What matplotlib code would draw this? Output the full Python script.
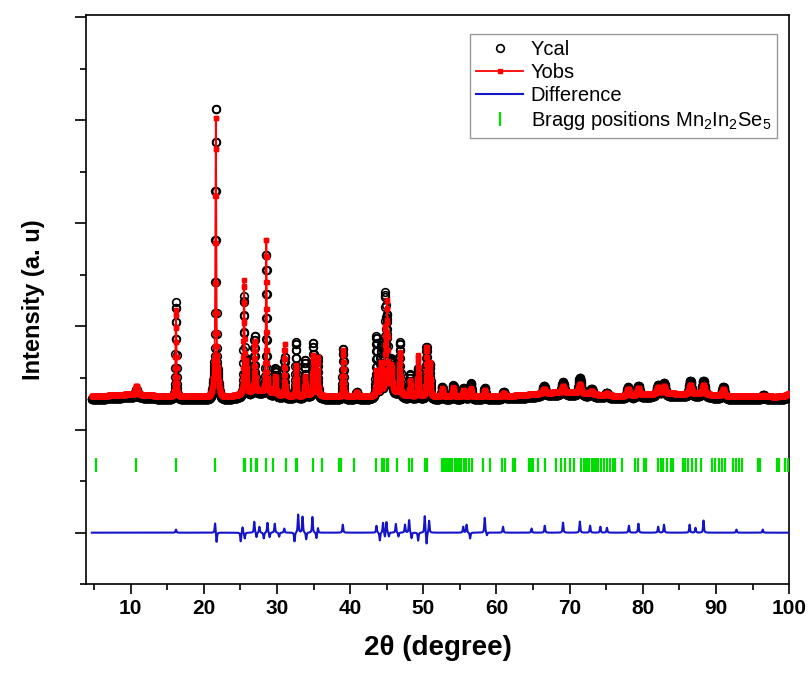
import numpy as np
import matplotlib
matplotlib.use("Agg")
import matplotlib.pyplot as plt
from matplotlib.ticker import MultipleLocator

# 2-theta range of the scan
two_theta_start = 4.7
two_theta_end = 100.0

# background levels (counts)
bg_obs = 2640
bg_cal = 2585

# broad background humps: position, width, height
hump_pos = [10.0, 21.65, 27.5, 35.0, 45.5, 69.0, 83.0, 88.0, 100.5]
hump_width = [6.0, 0.7, 4.0, 2.0, 2.5, 9.0, 6.0, 4.0, 1.5]
hump_height = [40, 480, 100, 40, 100, 80, 60, 40, 80]

# reflections: position, fwhm, height (obs / cal)
peak_pos = [10.8, 16.2, 21.65, 25.5, 25.8, 26.95, 28.55, 29.8, 31.05, 32.6,
            33.85, 34.95, 35.55, 39.05, 40.9, 43.6, 44.2, 44.8, 45.05, 45.6,
            46.8, 48.2, 49.3, 50.45, 50.9, 52.6, 54.1, 55.5, 56.5, 58.4,
            61.0, 66.5, 69.1, 71.4, 73.0, 75.1, 78.0, 79.4, 82.1, 82.9,
            86.5, 88.3, 91.0, 96.5]
peak_fwhm = [0.35, 0.15, 0.14, 0.15, 0.2, 0.18, 0.15, 0.2, 0.15, 0.18,
             0.18, 0.18, 0.18, 0.16, 0.3, 0.2, 0.2, 0.18, 0.16, 0.3,
             0.18, 0.18, 0.18, 0.18, 0.2, 0.25, 0.25, 0.25, 0.25, 0.25,
             0.3, 0.4, 0.4, 0.4, 0.4, 0.4, 0.4, 0.4, 0.4, 0.4,
             0.4, 0.4, 0.4, 0.45]
peak_obs = [170, 1670, 5010, 2170, 580, 990, 2990, 350, 1010, 600,
            370, 760, 740, 910, 80, 470, 600, 1180, 1700, 500,
            800, 310, 800, 950, 640, 155, 175, 120, 155, 120,
            60, 80, 120, 175, 60, 40, 135, 135, 120, 135,
            175, 175, 135, 20]
peak_cal = [150, 1880, 5240, 1920, 680, 1140, 2750, 560, 815, 1110,
            740, 1050, 760, 990, 135, 1185, 950, 1900, 1430, 660,
            1050, 470, 600, 1010, 660, 235, 270, 215, 310, 215,
            135, 195, 250, 350, 155, 100, 215, 235, 215, 250,
            310, 310, 235, 80]

# difference curve features: position, signed amplitude
diff_pos = [16.2, 21.55, 21.75, 25.05, 25.3, 25.6, 26.9, 27.2, 27.6, 28.2,
            28.7, 29.0, 29.7, 30.3, 31.0, 32.4, 32.9, 33.5, 34.0, 34.85,
            35.4, 35.6, 39.0, 43.6, 44.06, 44.5, 44.75, 44.97, 45.3, 46.25,
            46.6, 47.5, 48.07, 48.4, 49.3, 50.2, 50.45, 50.8, 55.46, 55.92,
            56.4, 58.4, 58.7, 60.9, 64.8, 66.6, 69.1, 71.4, 72.8, 74.2,
            75.1, 78.1, 79.4, 82.1, 82.9, 86.4, 87.2, 88.3, 92.8, 96.4]
diff_amp = [60, 195, -195, -175, 115, -115, 215, -95, 115, -115,
            195, -95, 175, -80, 80, -175, 350, 310, -135, 310,
            -115, 95, 155, 135, -155, 195, -95, 215, -80, 175,
            -80, 155, 250, -115, -155, 330, -235, 235, 115, 155,
            -115, 290, -60, 115, 80, 135, 195, 215, 135, 115,
            95, 135, 175, 115, 155, 155, 95, 235, 60, 60]

# Bragg reflection positions Mn2In2Se5
bragg_pos = [5.3, 10.8, 16.2, 21.6, 25.5, 25.7, 26.4, 27.1, 27.3, 28.5,
             29.4, 31.3, 32.55, 32.75, 34.9, 36.2, 38.5, 38.8, 40.5, 43.6,
             44.3, 44.7, 45.05, 45.2, 46.35, 48.1, 48.5, 50.2, 50.45, 52.5,
             52.7, 52.95, 53.2, 53.4, 53.65, 53.9, 54.3, 54.55, 54.85, 55.2,
             55.6, 55.9, 56.2, 56.6, 58.2, 59.1, 60.7, 61.15, 62.3, 62.6,
             64.45, 64.7, 65.0, 65.7, 66.6, 68.2, 68.8, 69.4, 70.05, 70.6,
             71.6, 71.9, 72.2, 72.4, 72.7, 73.0, 73.3, 73.6, 73.9, 74.3,
             74.7, 75.1, 75.5, 75.9, 76.2, 77.1, 78.95, 79.3, 80.1, 80.4,
             82.1, 82.5, 82.8, 83.3, 83.8, 84.2, 85.45, 85.8, 86.2, 86.7,
             87.3, 88.0, 89.5, 89.9, 90.4, 90.8, 91.2, 92.3, 92.7, 93.2,
             93.6, 95.7, 96.0, 98.3, 98.6, 99.4, 99.8]
bragg_level = 1310


def pseudo_voigt(x, pos, fwhm, eta=0.5):
    d = (x - pos) / fwhm
    gauss = np.exp(-4 * np.log(2) * d ** 2)
    lorentz = 1 / (1 + 4 * d ** 2)
    return eta * lorentz + (1 - eta) * gauss


def build_profile(x, base, heights):
    y = np.full_like(x, float(base))
    for p, w, h in zip(hump_pos, hump_width, hump_height):
        y += h * np.exp(-4 * np.log(2) * ((x - p) / w) ** 2)
    for p, w, h in zip(peak_pos, peak_fwhm, heights):
        y += h * pseudo_voigt(x, p, w)
    return y


tt = np.arange(two_theta_start, two_theta_end + 0.001, 0.02)
y_cal = build_profile(tt, bg_cal, peak_cal)
y_obs = build_profile(tt, bg_obs, peak_obs)
y_diff = np.zeros_like(tt)
for p, a in zip(diff_pos, diff_amp):
    y_diff += a * pseudo_voigt(tt, p, 0.14, eta=0.7)

plt.rcParams['font.family'] = ['Liberation Sans', 'DejaVu Sans']
plt.rcParams['mathtext.default'] = 'regular'

fig = plt.figure(figsize=(8.11, 6.77), dpi=100)
ax = fig.add_axes([0.106, 0.137, 0.867, 0.841])

ax.plot(tt, y_cal, 'o', ms=5.5, mfc='none', mec='black', mew=1.2,
        label='Ycal', zorder=2)
ax.plot(tt, y_obs, '-', color='red', lw=1.3, marker='s', ms=2.2,
        mec='red', mfc='red', label='Yobs', zorder=3)
ax.plot(tt, y_diff, '-', color='#1414c8', lw=1.5, label='Difference',
        zorder=3)
ax.plot(bragg_pos, [bragg_level] * len(bragg_pos), '|', color='#00dd00',
        ms=9.5, mew=1.6, ls='none',
        label='Bragg positions Mn$_2$In$_2$Se$_5$', zorder=3)

ax.set_xlim(3.9, 100)
ax.set_ylim(-1000, 10040)
ax.xaxis.set_major_locator(MultipleLocator(10))
ax.xaxis.set_minor_locator(MultipleLocator(5))
ax.yaxis.set_major_locator(MultipleLocator(2000))
ax.yaxis.set_minor_locator(MultipleLocator(1000))
ax.set_yticklabels([])
ax.tick_params(which='major', direction='out', length=7, width=1.2)
ax.tick_params(which='minor', direction='out', length=4, width=1.2)
ax.tick_params(axis='y', which='major', length=8)
for lab in ax.get_xticklabels():
    lab.set_fontweight('bold')
    lab.set_fontsize(15)
for s in ax.spines.values():
    s.set_linewidth(1.2)

ax.set_xlabel('2θ (degree)', fontsize=20, fontweight='bold', labelpad=12)
ax.set_ylabel('Intensity (a. u)', fontsize=17, fontweight='bold', labelpad=18)

leg = ax.legend(loc='upper right', bbox_to_anchor=(0.983, 0.967), fontsize=14.5,
                frameon=True, fancybox=False, handlelength=2.3,
                handletextpad=0.4, labelspacing=0.2, borderpad=0.3,
                borderaxespad=0)
leg.get_frame().set_edgecolor('#808080')
leg.get_frame().set_linewidth(1.0)

fig.savefig('out.png', dpi=100)
